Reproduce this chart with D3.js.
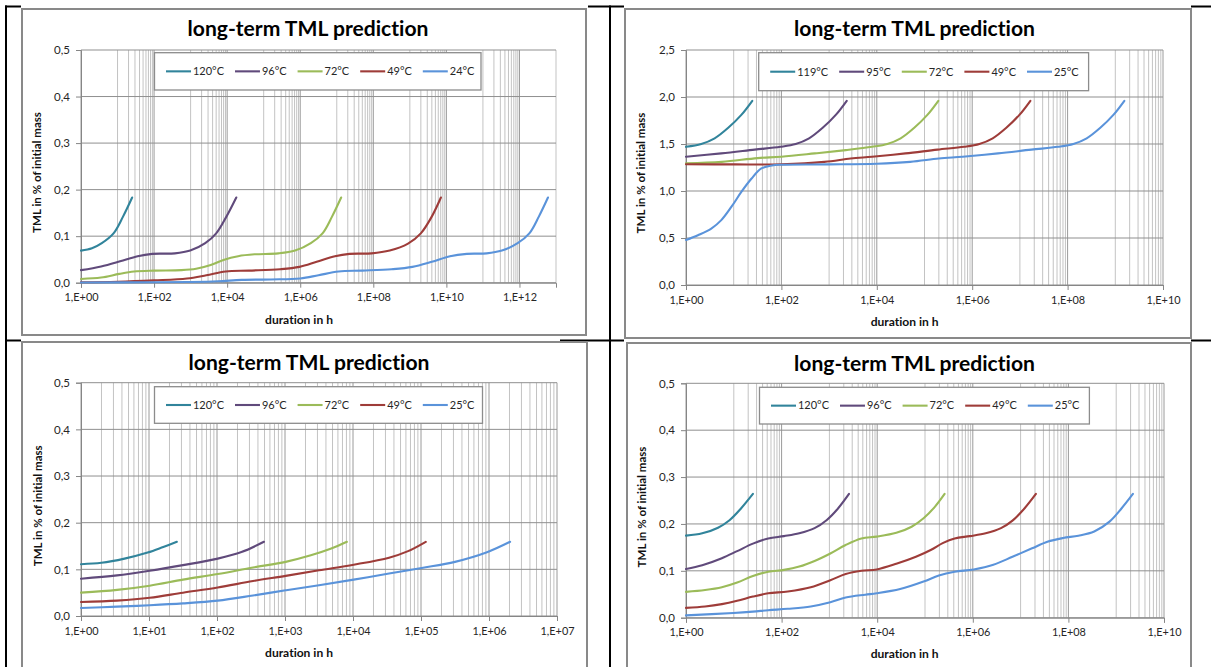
<!DOCTYPE html>
<html><head><meta charset="utf-8">
<script src="https://cdn.jsdelivr.net/npm/d3@7"></script>
<style>body{margin:0;background:#fff;}svg{display:block;}text{font-variant-ligatures:none;font-feature-settings:"liga" 0,"clig" 0;}</style>
</head><body>
<svg id="c" width="1211" height="667"></svg>
<script>
const FONT = "Lato, 'Open Sans', sans-serif";
const chartTitle = "long-term TML prediction";
const xAxisTitle = "duration in h";
const yAxisTitle = "TML in % of initial mass";
const seriesColors = ["#31849b", "#604a7b", "#9bbb59", "#9e3c39", "#5a93da"];

// ---------- Panel A (top-left) : points are [log10(duration h), TML %]
const A_labels = ["120°C", "96°C", "72°C", "49°C", "24°C"];
const A_xTicks = [1, 1e2, 1e4, 1e6, 1e8, 1e10, 1e12];
const A_xTickLabels = ["1,E+00", "1,E+02", "1,E+04", "1,E+06", "1,E+08", "1,E+10", "1,E+12"];
const A_yTicks = [0, 0.1, 0.2, 0.3, 0.4, 0.5];
const A_yTickLabels = ["0,0", "0,1", "0,2", "0,3", "0,4", "0,5"];
const A_s120 = [[0,0.069],[0.3,0.074],[0.57,0.085],[0.89,0.106],[1.15,0.142],[1.40,0.183]];
const A_s96 = [[0,0.027],[0.55,0.035],[1.07,0.046],[1.55,0.057],[1.95,0.062],[2.57,0.063],[2.99,0.069],[3.4,0.085],[3.7,0.106],[3.98,0.142],[4.25,0.183]];
const A_s72 = [[0,0.008],[0.55,0.011],[1.05,0.019],[1.45,0.024],[2.0,0.026],[2.75,0.027],[3.15,0.030],[3.55,0.038],[3.9,0.049],[4.3,0.057],[4.75,0.061],[5.4,0.063],[5.86,0.069],[6.29,0.085],[6.61,0.106],[6.87,0.142],[7.12,0.183]];
const A_s49 = [[0,0.001],[1.0,0.002],[2.0,0.005],[2.9,0.009],[3.43,0.016],[3.96,0.024],[4.6,0.026],[5.45,0.029],[5.98,0.034],[6.45,0.045],[6.95,0.057],[7.35,0.062],[7.95,0.063],[8.45,0.069],[8.95,0.084],[9.3,0.106],[9.6,0.142],[9.85,0.183]];
const A_s24 = [[0,0.0005],[2.0,0.001],[3.0,0.0015],[3.75,0.003],[4.4,0.006],[5.2,0.007],[6.0,0.009],[6.5,0.016],[7.05,0.024],[7.7,0.026],[8.5,0.029],[9.07,0.034],[9.6,0.045],[10.1,0.057],[10.56,0.062],[11.1,0.063],[11.52,0.069],[11.95,0.085],[12.27,0.106],[12.53,0.142],[12.78,0.183]];

// ---------- Panel B (top-right)
const B_labels = ["119°C", "95°C", "72°C", "49°C", "25°C"];
const B_xTicks = [1, 1e2, 1e4, 1e6, 1e8, 1e10];
const B_xTickLabels = ["1,E+00", "1,E+02", "1,E+04", "1,E+06", "1,E+08", "1,E+10"];
const B_yTicks = [0, 0.5, 1.0, 1.5, 2.0, 2.5];
const B_yTickLabels = ["0,0", "0,5", "1,0", "1,5", "2,0", "2,5"];
const B_s119 = [[0,1.47],[0.32,1.50],[0.6,1.56],[0.88,1.67],[1.16,1.81],[1.39,1.96]];
const B_s95 = [[0,1.365],[0.74,1.40],[1.44,1.44],[1.98,1.47],[2.3,1.50],[2.58,1.56],[2.86,1.67],[3.14,1.81],[3.37,1.96]];
const B_s72 = [[0,1.294],[0.75,1.31],[1.5,1.35],[2.0,1.365],[2.7,1.40],[3.35,1.435],[3.9,1.47],[4.22,1.50],[4.5,1.56],[4.78,1.67],[5.06,1.81],[5.29,1.96]];
const B_s49 = [[0,1.284],[1.0,1.283],[2.0,1.285],[2.9,1.31],[3.45,1.345],[3.9,1.365],[4.6,1.40],[5.27,1.44],[5.83,1.47],[6.15,1.50],[6.43,1.56],[6.71,1.67],[6.99,1.81],[7.22,1.96]];
const B_s25 = [[0,0.479],[0.25,0.53],[0.53,0.60],[0.74,0.69],[0.95,0.83],[1.16,0.99],[1.37,1.13],[1.58,1.24],[1.8,1.272],[2.0,1.28],[3.0,1.283],[4.0,1.29],[4.7,1.31],[5.3,1.345],[5.8,1.365],[6.54,1.40],[7.24,1.44],[7.8,1.47],[8.12,1.50],[8.4,1.56],[8.68,1.67],[8.96,1.81],[9.19,1.96]];

// ---------- Panel C (bottom-left)
const C_labels = ["120°C", "96°C", "72°C", "49°C", "25°C"];
const C_xTicks = [1, 1e1, 1e2, 1e3, 1e4, 1e5, 1e6, 1e7];
const C_xTickLabels = ["1,E+00", "1,E+01", "1,E+02", "1,E+03", "1,E+04", "1,E+05", "1,E+06", "1,E+07"];
const C_yTicks = [0, 0.1, 0.2, 0.3, 0.4, 0.5];
const C_yTickLabels = ["0,0", "0,1", "0,2", "0,3", "0,4", "0,5"];
const C_s120 = [[0,0.111],[0.3,0.114],[0.64,0.123],[0.98,0.136],[1.21,0.148],[1.41,0.159]];
const C_s96 = [[0,0.08],[0.53,0.087],[1.01,0.097],[1.5,0.109],[2.01,0.123],[2.36,0.137],[2.69,0.159]];
const C_s72 = [[0,0.050],[0.53,0.056],[1.01,0.065],[1.5,0.078],[2.01,0.090],[2.53,0.104],[3.01,0.116],[3.38,0.130],[3.67,0.144],[3.91,0.159]];
const C_s49 = [[0,0.030],[0.53,0.033],[1.01,0.039],[1.5,0.050],[2.01,0.061],[2.53,0.075],[3.01,0.086],[3.5,0.098],[4.01,0.110],[4.53,0.125],[4.81,0.139],[5.07,0.159]];
const C_s25 = [[0,0.017],[0.53,0.020],[1.01,0.023],[1.5,0.027],[2.01,0.033],[2.53,0.044],[3.01,0.055],[3.5,0.066],[4.01,0.078],[4.53,0.091],[5.01,0.103],[5.5,0.116],[5.96,0.136],[6.31,0.159]];

// ---------- Panel D (bottom-right)
const D_labels = ["120°C", "96°C", "72°C", "49°C", "25°C"];
const D_xTicks = [1, 1e2, 1e4, 1e6, 1e8, 1e10];
const D_xTickLabels = ["1,E+00", "1,E+02", "1,E+04", "1,E+06", "1,E+08", "1,E+10"];
const D_yTicks = [0, 0.1, 0.2, 0.3, 0.4, 0.5];
const D_yTickLabels = ["0,0", "0,1", "0,2", "0,3", "0,4", "0,5"];
const D_s120 = [[0,0.175],[0.34,0.18],[0.67,0.192],[0.91,0.208],[1.15,0.233],[1.4,0.264]];
const D_s96 = [[0,0.104],[0.34,0.112],[0.75,0.127],[1.07,0.142],[1.4,0.158],[1.72,0.169],[2.05,0.174],[2.37,0.18],[2.69,0.191],[2.94,0.208],[3.18,0.233],[3.41,0.264]];
const D_s72 = [[0,0.055],[0.4,0.059],[0.75,0.065],[1.07,0.075],[1.4,0.089],[1.72,0.098],[2.05,0.102],[2.37,0.109],[2.69,0.121],[3.02,0.137],[3.34,0.155],[3.67,0.169],[3.99,0.173],[4.4,0.181],[4.72,0.194],[4.97,0.212],[5.21,0.237],[5.41,0.264]];
const D_s49 = [[0,0.021],[0.4,0.024],[0.75,0.029],[1.07,0.036],[1.4,0.045],[1.72,0.052],[2.13,0.056],[2.61,0.065],[3.02,0.080],[3.34,0.093],[3.67,0.100],[3.99,0.103],[4.4,0.115],[4.81,0.130],[5.13,0.145],[5.37,0.159],[5.62,0.169],[5.94,0.174],[6.27,0.180],[6.59,0.191],[6.83,0.207],[7.08,0.233],[7.32,0.264]];
const D_s25 = [[0,0.005],[0.99,0.010],[1.4,0.013],[1.72,0.016],[2.13,0.019],[2.61,0.024],[3.02,0.033],[3.34,0.043],[3.75,0.049],[3.99,0.052],[4.48,0.061],[4.97,0.077],[5.29,0.090],[5.62,0.098],[6.02,0.103],[6.43,0.113],[6.83,0.130],[7.24,0.148],[7.56,0.162],[7.89,0.170],[8.21,0.175],[8.54,0.184],[8.86,0.205],[9.11,0.233],[9.35,0.264]];

const svg = d3.select("#c");

// ---------- table rules (visible only between the chart images)
function rule(x1, y1, x2, y2) {
  svg.append("line").attr("x1", x1).attr("y1", y1).attr("x2", x2).attr("y2", y2)
    .attr("stroke", "#000").attr("stroke-width", 2);
}
rule(6, 5.5, 6, 667); rule(610, 5.5, 610, 667);
rule(5, 6.5, 21, 6.5); rule(588, 6.5, 624, 6.5); rule(1191, 6.5, 1211, 6.5);
rule(5, 340.5, 21, 340.5); rule(560, 340.5, 624, 340.5); rule(1191, 340.5, 1211, 340.5);

// ---------- font fitting helper
function fitSize(text, weight, targetWidth) {
  const t = svg.append("text").attr("font-family", FONT).attr("font-weight", weight)
    .attr("font-size", 20).text(text);
  const w = t.node().getComputedTextLength();
  t.remove();
  return 20 * targetWidth / w;
}
const titleSize = fitSize(chartTitle, "bold", 241);
const xTitleSize = fitSize(xAxisTitle, "bold", 68);
const yTitleSize = fitSize(yAxisTitle, "bold", 121);
const tickSize = fitSize("1,E+00", "normal", 34);
const yTickSize = fitSize("0,5", "normal", 16);
const legendSize = fitSize("120°C", "normal", 31);

function drawPanel(p) {
  const g = svg.append("g");
  const [fx0, fy0, fx1, fy1] = p.frame;
  g.append("rect").attr("x", fx0).attr("y", fy0).attr("width", fx1 - fx0).attr("height", fy1 - fy0)
    .attr("fill", "#fff").attr("stroke", "#898989").attr("stroke-width", 2);

  const x = d3.scaleLog().base(p.base).domain([1, p.xMax]).range([p.px0, p.px1]);
  const y = d3.scaleLinear().domain([0, p.yMax]).range([p.py1, p.py0]);

  // vertical grid: minor then major
  const maxExp = Math.round(Math.log10(p.xMax));
  const minor = [];
  if (p.base === 10) {
    for (let e = 0; e < maxExp; e++) for (let k = 2; k <= 9; k++) minor.push(k * Math.pow(10, e));
  } else {
    for (let e = 1; e <= maxExp; e += 2) for (let k = 1; k <= 9; k++) {
      const v = k * Math.pow(10, e);
      if (v <= p.xMax * 1.0001) minor.push(v);
    }
  }
  g.selectAll("line.vmin").data(minor).join("line").attr("class", "vmin")
    .attr("x1", d => x(d)).attr("x2", d => x(d)).attr("y1", p.py0).attr("y2", p.py1)
    .attr("stroke", "#c3c3c3").attr("stroke-width", 1);
  g.selectAll("line.vmaj").data(p.xTicks).join("line").attr("class", "vmaj")
    .attr("x1", d => x(d)).attr("x2", d => x(d)).attr("y1", p.py0).attr("y2", p.py1)
    .attr("stroke", "#9a9a9a").attr("stroke-width", 1);
  g.selectAll("line.h").data(p.yTicks).join("line").attr("class", "h")
    .attr("x1", p.px0).attr("x2", p.px1).attr("y1", d => y(d)).attr("y2", d => y(d))
    .attr("stroke", "#8f8f8f").attr("stroke-width", 1);

  // axes
  const xa = g.append("g").attr("transform", `translate(0,${p.py1})`)
    .call(d3.axisBottom(x).tickValues(p.xTicks).tickFormat((d, i) => p.xTickLabels[i]).tickSizeOuter(0).tickSize(5).tickPadding(6));
  const ya = g.append("g").attr("transform", `translate(${p.px0},0)`)
    .call(d3.axisLeft(y).tickValues(p.yTicks).tickFormat((d, i) => p.yTickLabels[i]).tickSizeOuter(0).tickSize(5).tickPadding(6));
  [xa, ya].forEach(a => {
    a.select(".domain").attr("stroke", "#868686");
    a.selectAll(".tick line").attr("stroke", "#868686");
    a.selectAll("text").attr("font-family", FONT).attr("fill", "#262626");
  });
  xa.selectAll("text").attr("font-size", tickSize);
  ya.selectAll("text").attr("font-size", yTickSize);

  // series (smoothed like the spreadsheet's smoothed lines)
  const line = d3.line().x(d => x(Math.pow(10, d[0]))).y(d => y(d[1])).curve(d3.curveCatmullRom.alpha(0.5));
  p.series.forEach((s, i) => {
    g.append("path").attr("d", line(s)).attr("fill", "none")
      .attr("stroke", seriesColors[i]).attr("stroke-width", 2.1).attr("stroke-linecap", "round");
  });

  // legend
  const [lx0, ly0, lx1, ly1] = p.legend;
  g.append("rect").attr("x", lx0).attr("y", ly0).attr("width", lx1 - lx0).attr("height", ly1 - ly0)
    .attr("fill", "#fff").attr("stroke", "#8c8c8c").attr("stroke-width", 1.3);
  const cy = (ly0 + ly1) / 2;
  let cx = lx0 + 11.5;
  p.labels.forEach((lab, i) => {
    g.append("line").attr("x1", cx).attr("x2", cx + 25).attr("y1", cy).attr("y2", cy)
      .attr("stroke", seriesColors[i]).attr("stroke-width", 2.1);
    const t = g.append("text").attr("x", cx + 27).attr("y", cy).attr("dy", "0.35em")
      .attr("font-family", FONT).attr("font-size", legendSize).attr("fill", "#262626").text(lab);
    cx += 27 + t.node().getComputedTextLength() + 11;
  });

  // titles
  g.append("text").attr("x", p.title[0]).attr("y", p.title[1]).attr("text-anchor", "middle")
    .attr("font-family", FONT).attr("font-weight", "bold").attr("font-size", titleSize).attr("fill", "#000")
    .text(chartTitle);
  g.append("text").attr("x", p.xTitle[0]).attr("y", p.xTitle[1]).attr("text-anchor", "middle")
    .attr("font-family", FONT).attr("font-weight", "bold").attr("font-size", xTitleSize).attr("fill", "#111")
    .text(xAxisTitle);
  g.append("text").attr("transform", `translate(${p.yTitle[0]},${p.yTitle[1]}) rotate(-90)`)
    .attr("text-anchor", "middle").attr("dy", "0.35em")
    .attr("font-family", FONT).attr("font-weight", "bold").attr("font-size", yTitleSize).attr("fill", "#111")
    .text(yAxisTitle);
}

drawPanel({ frame: [22, 9, 586, 335], px0: 81, px1: 556, py0: 50, py1: 282.7, base: 100, xMax: 1e13, yMax: 0.5,
  xTicks: A_xTicks, xTickLabels: A_xTickLabels, yTicks: A_yTicks, yTickLabels: A_yTickLabels,
  series: [A_s120, A_s96, A_s72, A_s49, A_s24], labels: A_labels,
  legend: [154.5, 52.7, 481, 90], title: [308, 36], xTitle: [299, 324], yTitle: [37, 172.5] });

drawPanel({ frame: [625, 9, 1191, 338], px0: 686, px1: 1163, py0: 50, py1: 285, base: 100, xMax: 1e10, yMax: 2.5,
  xTicks: B_xTicks, xTickLabels: B_xTickLabels, yTicks: B_yTicks, yTickLabels: B_yTickLabels,
  series: [B_s119, B_s95, B_s72, B_s49, B_s25], labels: B_labels,
  legend: [758.7, 52.7, 1088.6, 90.7], title: [914.5, 36], xTitle: [904.6, 325.7], yTitle: [641, 173] });

drawPanel({ frame: [22, 342, 587, 700], px0: 81, px1: 557, py0: 382.7, py1: 616, base: 10, xMax: 1e7, yMax: 0.5,
  xTicks: C_xTicks, xTickLabels: C_xTickLabels, yTicks: C_yTicks, yTickLabels: C_yTickLabels,
  series: [C_s120, C_s96, C_s72, C_s49, C_s25], labels: C_labels,
  legend: [154.5, 386.7, 482.5, 423.3], title: [309, 370], xTitle: [299, 656.7], yTitle: [37.5, 505.8] });

drawPanel({ frame: [627, 343, 1191, 700], px0: 686, px1: 1164, py0: 383.3, py1: 617.7, base: 100, xMax: 1e10, yMax: 0.5,
  xTicks: D_xTicks, xTickLabels: D_xTickLabels, yTicks: D_yTicks, yTickLabels: D_yTickLabels,
  series: [D_s120, D_s96, D_s72, D_s49, D_s25], labels: D_labels,
  legend: [759.5, 387.3, 1089.4, 424], title: [914.5, 370.7], xTitle: [904.6, 658], yTitle: [642, 507] });
</script>
</body></html>
